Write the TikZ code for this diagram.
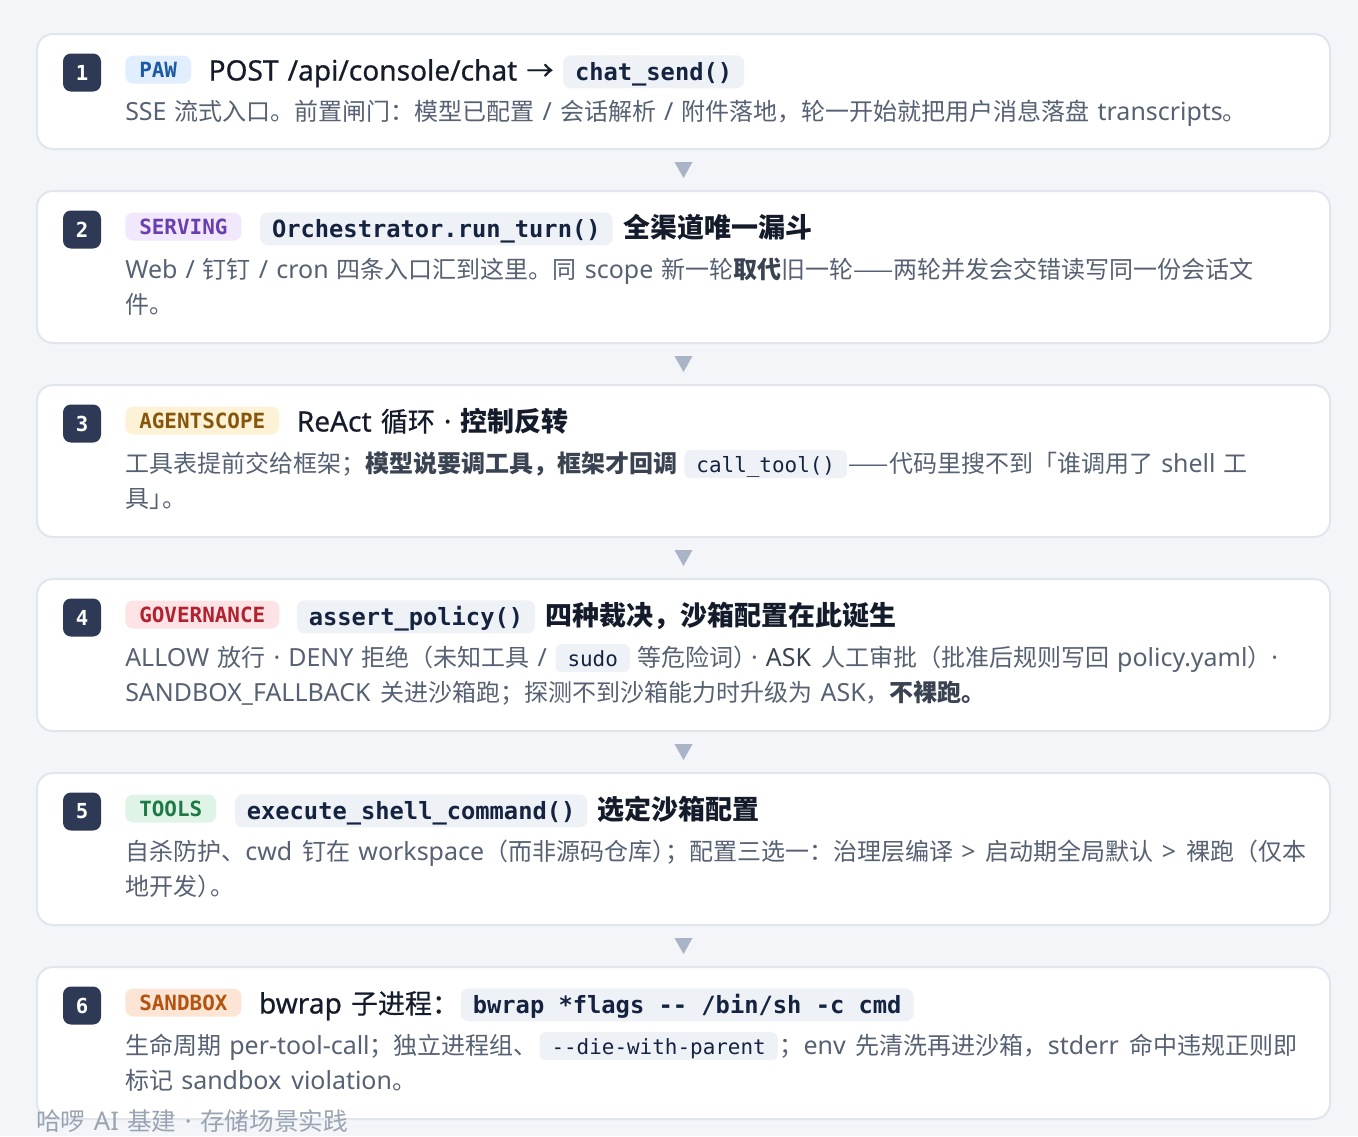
\documentclass[tikz,border=0pt]{standalone}
\usepackage{fontspec}
\setmainfont[Scale=1.04,WordSpace=1.25]{Noto Sans}
\setmonofont{DejaVu Sans Mono}
\newfontfamily\cjkf[WordSpace=1.5]{Noto Sans CJK SC}
\newfontfamily\cjkm[FakeBold=0.6,WordSpace=1.5]{Noto Sans CJK SC}
\newfontfamily\latm[FakeBold=0.6,Scale=1.04,WordSpace=1.25]{Noto Sans}
\usetikzlibrary{calc}

\def\cjksw{\cjkf}
\def\latsw{\rmfamily}
\newcommand\medium{\def\cjksw{\cjkm}\def\latsw{\latm}}
\newcommand\B[1]{{\def\cjksw{\cjkf}\def\latsw{\rmfamily}\bfseries #1}}
\newcommand\D[1]{{\bfseries\color{boldc}#1}}
\newcommand\nointer{\XeTeXinterchartokenstate=0 }
\newcommand\hk{\kern-.45em}
\newcommand\hkd{\kern-.25em}

\XeTeXinterchartokenstate=1
\newXeTeXintercharclass\cjkcls
\makeatletter
\count@="4E00
\loop \XeTeXcharclass\count@=\cjkcls \advance\count@ by 1 \ifnum\count@<"A000 \repeat
\count@="3000
\loop \XeTeXcharclass\count@=\cjkcls \advance\count@ by 1 \ifnum\count@<"3040 \repeat
\count@="FF00
\loop \XeTeXcharclass\count@=\cjkcls \advance\count@ by 1 \ifnum\count@<"FFF0 \repeat
\makeatother
\XeTeXcharclass"2192=\cjkcls
\XeTeXcharclass"2014=\cjkcls
\XeTeXinterchartoks 0 \cjkcls = {\cjksw}
\XeTeXinterchartoks 4095 \cjkcls = {\cjksw}
\XeTeXinterchartoks \cjkcls 0 = {\latsw}
\XeTeXinterchartoks 4095 0 = {\latsw}

\definecolor{bgc}{HTML}{F3F5F9}
\definecolor{cardb}{HTML}{E1E5ED}
\definecolor{badge}{HTML}{2E3A55}
\definecolor{titlec}{HTML}{141B2B}
\definecolor{descc}{HTML}{566173}
\definecolor{boldc}{HTML}{3A4352}
\definecolor{codebg}{HTML}{EEF1F6}
\definecolor{codetx}{HTML}{142340}
\definecolor{pawbg}{HTML}{E1EEFF}
\definecolor{pawtx}{HTML}{1E5AA3}
\definecolor{servbg}{HTML}{F1E8FD}
\definecolor{servtx}{HTML}{6A3EAF}
\definecolor{agbg}{HTML}{FDF2D5}
\definecolor{agtx}{HTML}{85560B}
\definecolor{govbg}{HTML}{FDE3E5}
\definecolor{govtx}{HTML}{B12230}
\definecolor{toolbg}{HTML}{E0F3E7}
\definecolor{tooltx}{HTML}{1E7A45}
\definecolor{sandbg}{HTML}{FDE5D6}
\definecolor{sandtx}{HTML}{B4520F}
\definecolor{arrowc}{HTML}{A9B4C7}
\definecolor{footc}{HTML}{9AA3B1}

\tikzset{
 card/.style={draw=cardb, line width=1.5pt, fill=white, rounded corners=12pt, anchor=north west, minimum width=969.75pt, inner sep=0pt},
 numbox/.style={fill=badge, rounded corners=6pt, minimum size=28.5pt, inner sep=0pt, text=white, font=\nointer\ttfamily\bfseries\fontsize{15.5}{18}\selectfont},
 tagbox/.style={rounded corners=6pt, inner xsep=10.5pt, inner ysep=0pt, text height=16.25pt, text depth=4.75pt, anchor=west, font=\nointer\ttfamily\bfseries\fontsize{15.7}{18}\selectfont},
 ttl/.style={anchor=base west, inner sep=0pt, text=titlec, font=\fontsize{20.25}{24}\selectfont},
 tcode/.style={anchor=base west, fill=codebg, text=codetx, rounded corners=6pt, inner xsep=9pt, inner ysep=0pt, text height=18.9pt, text depth=5.85pt, font=\nointer\ttfamily\bfseries\fontsize{17.8}{20}\selectfont},
 dsc/.style={anchor=base west, inner sep=0pt, text=descc, font=\fontsize{18}{22}\selectfont},
 dcode/.style={anchor=base west, fill=codebg, text=codetx, rounded corners=4.5pt, inner xsep=9pt, inner ysep=0pt, text height=16.8pt, text depth=4.2pt, font=\nointer\ttfamily\fontsize{15.7}{18}\selectfont},
 arr/.style={fill=arrowc},
 foot/.style={anchor=base west, inner sep=0pt, text=footc, font=\fontsize{18.5}{22}\selectfont},
}

\begin{document}
\begin{tikzpicture}[x=0.75pt,y=-0.75pt]
\fill[bgc] (0,0) rectangle (1358,1136);
\useasboundingbox (0,0) rectangle (1358,1136);

% ---------- card 1
\node[card, minimum height=86.25pt] (c1) at (36,33) {};
\node[numbox] (n1) at (82,72.5) {1};
\node[tagbox, fill=pawbg, text=pawtx] (g1) at (125,69.5) {PAW};
\node[ttl] (t1a) at ([xshift=12.75pt]g1.east |- 0,80.5) {\medium POST /api/console/chat →};
\node[tcode] (p1) at ([xshift=6.75pt]t1a.base east) {chat\_send()};
\node[dsc] (d1a) at (125,120.5) {SSE 流式入口。前置闸门：模型已配置 / 会话解析 / 附件落地，轮一开始就把用户消息落盘 transcripts。};

% ---------- card 2
\node[card, minimum height=114pt] (c2) at (36,190) {};
\node[numbox] (n2) at (82,229.5) {2};
\node[tagbox, fill=servbg, text=servtx] (g2) at (125,226.5) {SERVING};
\node[tcode] (p2) at ([xshift=13.5pt]g2.east |- 0,237.5) {Orchestrator.run\_turn()};
\node[ttl] (t2a) at ([xshift=7.5pt]p2.base east) {\bfseries 全渠道唯一漏斗};
\node[dsc] (d2a) at (125,278.5) {Web / 钉钉 / cron 四条入口汇到这里。同 scope 新一轮\D{取代}旧一轮——两轮并发会交错读写同一份会话文};
\node[dsc] (d2b) at (125,313.5) {件。};

% ---------- card 3
\node[card, minimum height=114pt] (c3) at (36,384) {};
\node[numbox] (n3) at (82,423.5) {3};
\node[tagbox, fill=agbg, text=agtx] (g3) at (125,420.5) {AGENTSCOPE};
\node[ttl] (t3a) at ([xshift=12.75pt]g3.east |- 0,431.5) {\medium ReAct 循环 · \B{控制反转}};
\node[dsc] (d3a) at (125,472.5) {工具表提前交给框架；\D{模型说要调工具，框架才回调}};
\node[dcode] (q3) at ([xshift=5pt]d3a.base east) {call\_tool()};
\node[dsc] (d3b) at ([xshift=1pt]q3.base east) {——代码里搜不到「谁调用了 shell 工};
\node[dsc] (d3c) at (125,507.5) {具」\hk。};

% ---------- card 4
\node[card, minimum height=114pt] (c4) at (36,578) {};
\node[numbox] (n4) at (82,617.5) {4};
\node[tagbox, fill=govbg, text=govtx] (g4) at (125,614.5) {GOVERNANCE};
\node[tcode] (p4) at ([xshift=12.75pt]g4.east |- 0,625.5) {assert\_policy()};
\node[ttl] (t4a) at ([xshift=7.5pt]p4.base east) {\bfseries 四种裁决，沙箱配置在此诞生};
\node[dsc] (d4a) at (125,666.5) {ALLOW 放行 · DENY 拒绝（未知工具 /};
\node[dcode] (q4) at ([xshift=6pt]d4a.base east) {sudo};
\node[dsc] (d4b) at ([xshift=5pt]q4.base east) {等危险词）\hkd· \D{ASK} 人工审批（批准后规则写回 policy.yaml）·};
\node[dsc] (d4c) at (125,701.5) {SANDBOX\_FALLBACK 关进沙箱跑；探测不到沙箱能力时升级为 ASK，\D{不裸跑。}};

% ---------- card 5
\node[card, minimum height=114pt] (c5) at (36,772) {};
\node[numbox] (n5) at (82,811.5) {5};
\node[tagbox, fill=toolbg, text=tooltx] (g5) at (125,808.5) {TOOLS};
\node[tcode] (p5) at ([xshift=13.5pt]g5.east |- 0,819.5) {execute\_shell\_command()};
\node[ttl] (t5a) at ([xshift=7.5pt]p5.base east) {\bfseries 选定沙箱配置};
\node[dsc] (d5a) at (125,860.5) {自杀防护、cwd 钉在 workspace（而非源码仓库）\hk；配置三选一：治理层编译 > 启动期全局默认 > 裸跑（仅本};
\node[dsc] (d5b) at (125,895.5) {地开发）\hk。};

% ---------- card 6
\node[card, minimum height=114pt] (c6) at (36,966) {};
\node[numbox] (n6) at (82,1005.5) {6};
\node[tagbox, fill=sandbg, text=sandtx] (g6) at (125,1002.5) {SANDBOX};
\node[ttl] (t6a) at ([xshift=12.75pt]g6.east |- 0,1013.5) {\medium bwrap 子进程：};
\node[tcode] (p6) at ([xshift=1pt]t6a.base east) {bwrap *flags -- /bin/sh -c cmd};
\node[dsc] (d6a) at (125,1054.5) {生命周期 per-tool-call；独立进程组、};
\node[dcode] (q6) at ([xshift=1pt]d6a.base east) {--die-with-parent};
\node[dsc] (d6b) at ([xshift=1pt]q6.base east) {；env 先清洗再进沙箱，stderr 命中违规正则即};
\node[dsc] (d6c) at (125,1089.5) {标记 sandbox violation。};

% ---------- arrows
\foreach \a/\b in {c1/c2,c2/c3,c3/c4,c4/c5,c5/c6}{
  \coordinate (m) at ($(\a.south)!0.5!(\b.north)$);
  \fill[arr] ([xshift=-6.75pt,yshift=6pt]m) -- ([xshift=6.75pt,yshift=6pt]m) -- ([yshift=-6pt]m) -- cycle;
}

% ---------- footer
\node[foot] (ft) at (36,1130) {哈啰 AI 基建 · 存储场景实践};
\end{tikzpicture}
\end{document}
